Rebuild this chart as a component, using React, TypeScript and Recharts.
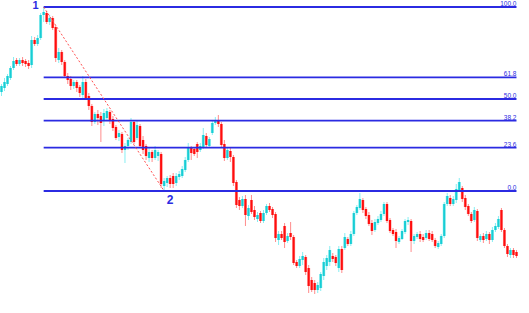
import { Bar, BarChart, ReferenceDot, ReferenceLine, XAxis, YAxis } from "recharts";

// candle prices, oldest first
const opens = [
  221, 225, 229, 235, 245, 253, 249, 253, 252, 250,
  248, 273, 269, 275, 298, 300, 291, 295, 286, 253,
  261, 251, 237, 234, 227, 231, 226, 218, 231, 217,
  207, 191, 199, 197, 192, 195, 201, 194, 186, 176,
  179, 163, 167, 171, 191, 175, 187, 173, 167, 155,
  161, 155, 157, 159, 127, 130, 135, 137, 130, 136,
  137, 143, 153, 165, 164, 169, 163, 166, 177, 167,
  180, 190, 193, 189, 169, 155, 162, 156, 131, 113,
  107, 114, 97, 113, 103, 94, 100, 92, 100, 107,
  104, 99, 73, 79, 87, 72, 80, 76, 51, 47,
  53, 56, 45, 33, 30, 23, 25, 37, 47, 51,
  57, 56, 45, 64, 65, 74, 69, 79, 100, 105,
  113, 104, 98, 90, 83, 90, 93, 99, 109, 93,
  83, 81, 71, 74, 81, 91, 92, 72, 76, 79,
  76, 75, 80, 79, 73, 66, 69, 77, 109, 115,
  109, 113, 123, 125, 115, 107, 99, 93, 102, 73,
  77, 74, 79, 73, 83, 86, 103, 83, 67, 58,
  63, 61,
];
const highs = [
  229, 235, 239, 247, 256, 255, 255, 256, 254, 253,
  277, 276, 278, 300, 306, 302, 298, 297, 288, 265,
  263, 253, 240, 237, 233, 233, 228, 237, 234, 220,
  209, 201, 203, 201, 204, 205, 203, 197, 188, 183,
  181, 170, 175, 195, 193, 192, 189, 177, 169, 165,
  163, 167, 163, 161, 135, 137, 138, 140, 140, 142,
  147, 156, 170, 167, 166, 171, 170, 185, 180, 176,
  192, 196, 198, 191, 173, 165, 165, 158, 133, 116,
  117, 118, 108, 118, 107, 101, 102, 103, 109, 110,
  106, 101, 82, 82, 90, 80, 91, 78, 53, 57,
  61, 58, 48, 36, 33, 31, 41, 55, 58, 67,
  60, 58, 67, 67, 80, 76, 82, 102, 108, 120,
  115, 106, 101, 93, 94, 97, 102, 111, 111, 95,
  85, 84, 77, 84, 94, 96, 94, 79, 81, 82,
  79, 83, 83, 82, 75, 72, 79, 111, 120, 118,
  117, 129, 135, 127, 118, 109, 101, 106, 104, 79,
  80, 82, 81, 86, 90, 97, 105, 85, 69, 65,
  65, 63,
];
const lows = [
  217, 222, 227, 233, 243, 247, 247, 247, 246, 244,
  245, 267, 267, 273, 291, 289, 288, 283, 251, 250,
  248, 235, 229, 223, 224, 221, 216, 215, 213, 203,
  187, 189, 188, 171, 187, 192, 189, 182, 173, 172,
  160, 150, 163, 169, 169, 173, 165, 159, 153, 151,
  151, 153, 152, 125, 122, 126, 125, 125, 127, 133,
  135, 141, 151, 153, 157, 155, 161, 164, 165, 165,
  178, 188, 186, 165, 152, 153, 151, 127, 105, 103,
  105, 87, 93, 99, 93, 91, 90, 90, 98, 101,
  95, 71, 68, 73, 65, 70, 73, 48, 45, 45,
  48, 38, 20, 21, 19, 20, 22, 33, 43, 47,
  51, 47, 41, 40, 63, 67, 67, 77, 98, 103,
  100, 94, 87, 78, 81, 88, 91, 97, 90, 80,
  77, 65, 69, 73, 79, 88, 61, 69, 74, 71,
  71, 73, 72, 71, 65, 64, 67, 75, 107, 107,
  107, 110, 121, 111, 103, 97, 90, 91, 72, 71,
  70, 72, 69, 71, 81, 84, 81, 65, 56, 55,
  55, 55,
];
const closes = [
  227, 231, 237, 245, 252, 249, 253, 250, 249, 247,
  273, 269, 275, 298, 301, 291, 295, 285, 255, 261,
  251, 237, 233, 227, 231, 225, 220, 231, 215, 207,
  191, 199, 195, 190, 200, 202, 193, 185, 175, 180,
  163, 167, 173, 191, 171, 188, 167, 163, 157, 161,
  155, 163, 161, 129, 132, 135, 129, 129, 137, 139,
  144, 153, 165, 160, 159, 161, 167, 178, 168, 174,
  190, 193, 189, 168, 155, 163, 156, 130, 108, 107,
  114, 98, 105, 101, 96, 98, 92, 100, 107, 103,
  98, 75, 79, 75, 71, 77, 76, 50, 47, 54,
  57, 41, 27, 23, 23, 28, 39, 51, 55, 63,
  54, 50, 64, 43, 76, 69, 79, 100, 106, 114,
  103, 97, 89, 82, 91, 94, 99, 109, 92, 82,
  79, 72, 75, 82, 92, 93, 72, 77, 79, 74,
  73, 80, 74, 73, 67, 70, 77, 109, 117, 109,
  114, 124, 131, 114, 106, 99, 92, 103, 75, 77,
  73, 79, 73, 83, 87, 94, 83, 67, 59, 63,
  58, 57,
];

const fibLevels = [0, 23.6, 38.2, 50, 61.8, 100];
const fibLabels = ["0.0", "23.6", "38.2", "50.0", "61.8", "100.0"];

// swing points the retracement is drawn between
const swingHighIndex = 14;
const swingLowIndex = 54;
const swingNames = ["1", "2"];

const candles = opens.map((o, i) => ({
  i,
  o,
  h: highs[i],
  l: lows[i],
  c: closes[i],
}));

const swingHigh = highs[swingHighIndex];
const swingLow = lows[swingLowIndex];
const lastIndex = candles.length - 1;

const FONT = "'Liberation Sans', Arial, sans-serif";
const BLUE = "#2b2be2";

function Candle(props: any) {
  const { x, y, width, height, payload } = props;
  if (!payload) return null;
  const top = Math.min(y, y + height);
  const span = Math.abs(height);
  const { o, h, l, c } = payload;
  const toY = (v: number) => (h === l ? top : top + ((h - v) / (h - l)) * span);
  const up = c >= o;
  const cx = x + width / 2;
  const y1 = toY(Math.max(o, c));
  const y2 = toY(Math.min(o, c));
  const bodyH = Math.max(1, y2 - y1);
  return (
    <g>
      <line
        x1={cx}
        x2={cx}
        y1={top}
        y2={top + span}
        stroke={up ? "#86eef2" : "#ff8c8c"}
        strokeWidth={1}
      />
      <rect
        x={cx - 1.5}
        y={y1}
        width={3}
        height={bodyH}
        fill={up ? "#9af0f2" : "#ffa0a0"}
      />
      <rect
        x={cx - 1}
        y={y1}
        width={2}
        height={bodyH}
        fill={up ? "#18cdd4" : "#ff0d0d"}
      />
    </g>
  );
}

function FibLabel(props: any) {
  const { viewBox, text } = props;
  if (!viewBox) return null;
  return (
    <text
      x={viewBox.x + viewBox.width}
      y={viewBox.y - 1}
      textAnchor="end"
      fontSize={6.5}
      fontFamily={FONT}
      fill={BLUE}
    >
      {text}
    </text>
  );
}

function SwingLabel(props: any) {
  const { viewBox, text, dx, dy, size } = props;
  if (!viewBox) return null;
  return (
    <text
      x={viewBox.x + dx}
      y={viewBox.y + dy}
      textAnchor="middle"
      fontSize={size}
      fontWeight="bold"
      fontFamily={FONT}
      fill={BLUE}
    >
      {text}
    </text>
  );
}

export default function App() {
  return (
    <div style={{ position: "absolute", left: 0, top: 0, background: "#fff" }}>
      <BarChart
        width={529}
        height={313}
        data={candles}
        margin={{ top: 0, right: 11, bottom: 0, left: 0 }}
        barCategoryGap={0}
        barGap={0}
      >
        <XAxis dataKey="i" hide />
        <YAxis type="number" domain={[0, 313]} hide allowDataOverflow />
        <Bar
          dataKey={(d: any) => [d.l, d.h]}
          shape={(p: any) => <Candle {...p} />}
          isAnimationActive={false}
        />
        {fibLevels.map((r, k) => {
          const v = swingLow + ((swingHigh - swingLow) * r) / 100;
          return (
            <ReferenceLine
              key={r}
              segment={[
                { x: swingHighIndex, y: v },
                { x: lastIndex, y: v },
              ]}
              stroke={BLUE}
              strokeWidth={1.8}
              label={<FibLabel text={fibLabels[k]} />}
            />
          );
        })}
        <ReferenceLine
          segment={[
            { x: swingHighIndex, y: swingHigh },
            { x: swingLowIndex, y: swingLow },
          ]}
          stroke="#ff5050"
          strokeWidth={1}
          strokeDasharray="2 2"
        />
        <ReferenceDot
          x={swingHighIndex}
          y={swingHigh}
          r={0}
          stroke="none"
          fill="none"
          label={<SwingLabel text={swingNames[0]} dx={-8} dy={2} size={11} />}
        />
        <ReferenceDot
          x={swingLowIndex}
          y={swingLow}
          r={0}
          stroke="none"
          fill="none"
          label={<SwingLabel text={swingNames[1]} dx={6} dy={13} size={12} />}
        />
      </BarChart>
    </div>
  );
}
